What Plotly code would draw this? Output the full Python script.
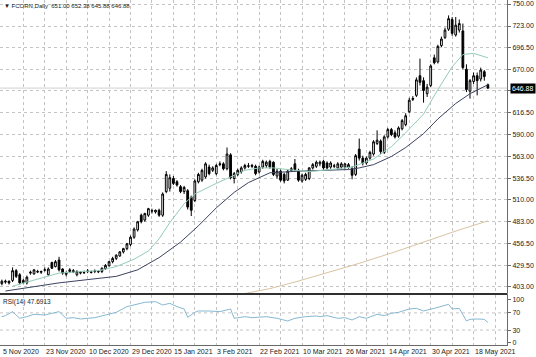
import plotly.graph_objects as go

# ---------------- data ----------------
opens = [407, 409, 410, 411, 423, 418, 408.5, 408, 420, 419, 422, 421, 423.5, 418, 433, 428, 436, 425, 418.5, 422,
         423, 418, 420, 421, 422, 421.5, 422, 421.5, 422, 425.5, 429, 434, 438, 441, 446, 450, 455, 464, 473, 491,
         485, 491, 496, 495, 497, 491, 520, 524, 536, 532, 526, 520, 521, 513, 509, 532, 534, 538, 550, 546,
         542, 553, 554, 548, 565, 536, 541, 544, 549, 551, 552, 551, 544, 550, 552, 557, 556, 539, 545, 541,
         534, 546, 554, 546, 533, 535, 536, 549, 551, 554, 557, 555, 550, 551, 549, 550, 550, 550, 548, 541,
         572, 561, 555, 561, 566, 579, 582, 568, 587, 596, 592, 588, 597, 602, 618, 633, 638, 662, 656, 640,
         650, 684, 679, 699, 709, 719, 731, 712, 718, 717, 670, 643, 655, 662, 658, 667, 651.00]
highs = [412, 412, 411, 427, 425, 420, 413, 417, 423, 425, 424, 423, 427, 427, 434, 436, 440, 426, 422, 426,
         425, 423.5, 422.5, 423, 425, 423, 424.5, 423, 427, 431, 435, 440, 443, 447, 451, 457, 466, 476, 484, 493,
         494, 500, 499, 498, 499, 519, 545, 541, 539, 534, 528, 527, 523, 515, 535, 543, 548, 556, 553, 551,
         554, 557, 556, 574, 567, 544, 548, 551, 554, 555, 554, 553, 552, 559, 558, 559, 557, 548, 547, 543,
         547, 550, 560, 548, 542, 543, 550, 555, 558, 558, 559, 557, 557, 554, 556, 556, 555, 555, 551, 566,
         585, 564, 563, 570, 583, 595, 584, 589, 598, 598, 595, 600, 609, 616, 635, 637, 660, 683, 660, 652,
         676, 688, 700, 710, 721, 736, 734, 734, 731, 726, 676, 658, 666, 666, 672, 669, 652.38]
lows = [405, 407, 406, 409, 414, 406, 407, 406, 418, 418, 420, 419, 422, 417, 425, 427, 422, 418, 416, 420,
        420, 416, 418.5, 419, 420, 419.5, 420, 420, 420, 424, 428, 432, 436, 440, 444, 448, 453, 462, 471, 481,
        483, 489, 493, 493, 489, 489, 518, 520, 528, 526, 518, 517, 498, 490, 507, 530, 532, 536, 540, 544,
        540, 551, 546, 546, 535, 530, 539, 542, 547, 549, 549, 540, 542, 548, 549, 548, 539, 536, 532, 530,
        533, 544, 545, 532, 531, 533, 534, 547, 549, 551, 547, 547, 548, 549, 547, 548, 548, 548, 535, 539,
        558, 552, 553, 559, 564, 577, 566, 566, 585, 588, 585, 586, 595, 600, 616, 631, 636, 650, 629, 636,
        648, 676, 677, 697, 707, 717, 711, 710, 715, 670, 642, 634, 652, 638, 655, 656, 645.88]
closes = [410, 410, 408, 423, 416, 408, 411, 415, 421, 424, 421.5, 422, 424, 425, 426, 434, 424, 420, 420.5, 424,
          421.5, 422, 421, 420.5, 422.5, 421, 422.5, 422, 426, 429.5, 434, 438, 442, 446, 450, 456, 464, 474, 483, 483,
          493, 499, 496.5, 497, 491, 517, 541, 537, 530, 528, 520, 525, 501, 497, 533, 541, 546, 554, 542, 549,
          552, 554, 548, 566, 537, 542, 546, 549, 552, 551.5, 551, 542, 550, 557, 556, 550, 541, 545, 534, 533,
          545, 548, 547, 534, 540, 541, 549, 553, 556, 556, 549, 549, 555, 551.5, 554, 554, 554, 553, 540, 564,
          561, 555, 561, 568, 581, 583, 569, 587, 596, 590, 587, 598, 607, 613, 632, 634, 657, 654, 644, 648,
          674, 678, 698, 707, 718, 732, 714, 724, 726, 672, 645, 656, 662, 656, 669, 661, 646.88]

# moving averages (bar index, value)
ma_fast_bars = [3, 9, 16, 21, 27, 32, 37, 41, 44, 47, 51, 54, 57, 60, 64, 68, 72, 76, 81, 86, 92, 98,
                104, 109, 113, 118, 122, 126, 129, 132, 136]
ma_fast_vals = [404, 411, 420, 421.5, 423, 428, 437, 447, 462, 482, 505, 517, 524, 530, 538, 546, 549, 549,
                546.5, 544.5, 547, 550, 560, 575, 592, 615, 645, 673, 688, 689.5, 684]
ma_slow_bars = [1, 9, 16, 23, 32, 38, 44, 50, 55, 60, 65, 69, 75, 83, 90, 97, 100, 104, 109, 113, 118, 122,
                127, 131, 136]
ma_slow_vals = [398, 403.5, 408, 411.5, 416, 424, 439, 458, 478, 500, 519, 531, 543, 545, 546, 547, 549, 553,
                563, 574, 591, 609, 628, 640, 651]
ma_long_bars = [68, 75, 82, 90, 100, 110, 120, 128, 136]
ma_long_vals = [395, 401, 409, 419, 432, 446, 461, 473, 484]

# RSI(14) (bar index, value)
rsi_bars = [0, 1, 3, 5, 7, 9, 12, 14, 16, 18, 20, 22, 24, 26, 29, 32, 35, 38, 40, 43, 45, 47, 49, 51, 52,
            54, 55, 58, 61, 64, 65, 68, 70, 74, 77, 80, 82, 85, 88, 89, 91, 94, 96, 98, 100, 102, 105, 107,
            109, 111, 114, 116, 118, 121, 123, 125, 126, 128, 130, 131, 133, 135, 136]
rsi_vals = [61.2, 63.6, 72.9, 57.4, 61.2, 66.7, 65.1, 69.0, 72.9, 57.4, 58.9, 55.8, 57.4, 58.9, 65.1, 71.3,
            84.5, 90.7, 94.6, 96.1, 88.4, 92.2, 84.5, 79.1, 59.7, 71.3, 74.4, 74.4, 72.9, 79.1, 57.4, 61.2,
            58.9, 61.2, 57.4, 51.2, 57.4, 61.2, 62.8, 61.2, 63.6, 57.4, 58.9, 53.5, 61.2, 57.4, 66.7, 63.6,
            69.0, 71.3, 79.1, 80.6, 74.4, 80.6, 86.0, 89.9, 79.1, 80.6, 51.2, 55.0, 55.8, 55.0, 47.69]

price_ticks = [403.0, 429.5, 456.5, 483.0, 510.0, 536.5, 563.0, 590.0, 616.5, 643.5, 670.0, 696.5, 723.0, 750.0]
hidden_tick = 643.5   # covered by the last-price tag in the reference
date_label_bars = [0, 12, 24, 36, 48, 60, 72, 84, 96, 108, 120, 132]
date_labels = ["5 Nov 2020", "23 Nov 2020", "10 Dec 2020", "29 Dec 2020", "15 Jan 2021", "3 Feb 2021",
               "22 Feb 2021", "10 Mar 2021", "26 Mar 2021", "14 Apr 2021", "30 Apr 2021", "18 May 2021"]
grid_bars = list(range(6, 142, 6))
rsi_ticks = [0, 30, 70, 100]
title_text = "\u25bc FCORN,Daily  651.00 652.38 645.88 646.88"
rsi_text = "RSI(14) 47.6913"
last_price = 646.88

# ---------------- figure ----------------
bars = list(range(len(closes)))
FONT = "Liberation Sans, Arial, sans-serif"
GRID = "#c4c4c4"

fig = go.Figure()
fig.add_trace(go.Candlestick(
    x=bars, open=opens, high=highs, low=lows, close=closes,
    increasing=dict(fillcolor="white", line=dict(color="black", width=1)),
    decreasing=dict(fillcolor="black", line=dict(color="black", width=1)),
    whiskerwidth=0, showlegend=False, hoverinfo="skip", xaxis="x", yaxis="y"))
fig.add_trace(go.Scatter(x=ma_long_bars, y=ma_long_vals, mode="lines",
                         line=dict(color="#d9c3a2", width=1), showlegend=False, xaxis="x", yaxis="y"))
fig.add_trace(go.Scatter(x=ma_slow_bars, y=ma_slow_vals, mode="lines",
                         line=dict(color="#3b4360", width=1), showlegend=False, xaxis="x", yaxis="y"))
fig.add_trace(go.Scatter(x=ma_fast_bars, y=ma_fast_vals, mode="lines",
                         line=dict(color="#94ccb6", width=1), showlegend=False, xaxis="x", yaxis="y"))
fig.add_trace(go.Scatter(x=rsi_bars, y=rsi_vals, mode="lines",
                         line=dict(color="#86b9d2", width=1), showlegend=False, xaxis="x2", yaxis="y2"))

W, H = 536, 357
ML, MR, MT, MB = 0, 29, 0, 12
PH = H - MT - MB          # 345 px of plotting height
main_bottom_px = 293
rsi_top_px = 295
xr = [-0.52, 141.35]

fig.update_layout(
    width=W, height=H, margin=dict(l=ML, r=MR, t=MT, b=MB),
    paper_bgcolor="white", plot_bgcolor="white",
    font=dict(family=FONT, size=7, color="#222222"),
    showlegend=False,
    xaxis=dict(domain=[0, 1], range=xr, anchor="y", tickvals=grid_bars, showticklabels=False,
               showgrid=True, gridcolor=GRID, griddash="dot", gridwidth=1, zeroline=False,
               showline=True, mirror=True, linecolor="#9a9a9a", linewidth=1,
               rangeslider=dict(visible=False), ticks=""),
    yaxis=dict(domain=[(PH - main_bottom_px) / PH, 1], range=[395.6, 754.9], side="right",
               tickvals=price_ticks,
               ticktext=["" if v == hidden_tick else "%.2f" % v for v in price_ticks],
               ticklabeloverflow="allow",
               showgrid=True, gridcolor=GRID, griddash="dot", zeroline=False,
               showline=True, mirror=True, linecolor="#6a6a6a", linewidth=1,
               ticks="outside", ticklen=3, tickcolor="#6a6a6a", tickfont=dict(size=7, color="#222222")),
    xaxis2=dict(domain=[0, 1], range=xr, anchor="y2", tickvals=grid_bars, showticklabels=False,
                showgrid=True, gridcolor=GRID, griddash="dot", zeroline=False,
                showline=True, mirror=True, linecolor="#6a6a6a", linewidth=1, ticks=""),
    yaxis2=dict(domain=[0, (PH - rsi_top_px) / PH], range=[-4.7, 111.6], side="right",
                tickvals=rsi_ticks, ticktext=[str(v) for v in rsi_ticks],
                showgrid=False, zeroline=False, ticklabeloverflow="allow",
                showline=True, mirror=True, linecolor="#6a6a6a", linewidth=1,
                ticks="outside", ticklen=3, tickcolor="#6a6a6a", tickfont=dict(size=7, color="#222222")),
)

# RSI level lines
for lv in (30, 70):
    fig.add_shape(type="line", xref="paper", yref="y2", x0=0, x1=1, y0=lv, y1=lv,
                  line=dict(color=GRID, width=1, dash="dot"), layer="below")

# separator between panels
sep = 1 - (main_bottom_px + 1) / PH
fig.add_shape(type="line", xref="paper", yref="paper", x0=0, x1=1, y0=sep, y1=sep,
              line=dict(color="#303030", width=2))

# bid line and price tag
fig.add_shape(type="line", xref="paper", yref="y", x0=0, x1=1, y0=last_price, y1=last_price,
              line=dict(color="#d0d0d0", width=1), layer="below")
fig.add_annotation(xref="paper", yref="y", x=1, y=last_price, xanchor="left", yanchor="middle",
                   xshift=3, text="%.2f" % last_price, showarrow=False,
                   font=dict(size=7, color="white"), bgcolor="black", borderpad=1)

# date labels (left aligned at their bars)
for b, t in zip(date_label_bars, date_labels):
    fig.add_annotation(xref="x", yref="paper", x=b, y=0, xanchor="left", yanchor="top",
                       yshift=-1, xshift=-1, text=t, showarrow=False, font=dict(size=7, color="#222222"))

# titles
fig.add_annotation(xref="paper", yref="paper", x=0, y=1, xanchor="left", yanchor="top", xshift=2, yshift=-1,
                   text=title_text, showarrow=False, font=dict(size=6, color="#222222"))
fig.add_annotation(xref="paper", yref="paper", x=0, y=(PH - rsi_top_px) / PH, xanchor="left", yanchor="top",
                   xshift=1, yshift=-1, text=rsi_text, showarrow=False, font=dict(size=6.5, color="#222222"))

fig.write_html("out.html", config={"displayModeBar": False},
               post_script="document.body.style.margin='0px';document.body.style.overflow='hidden';")
